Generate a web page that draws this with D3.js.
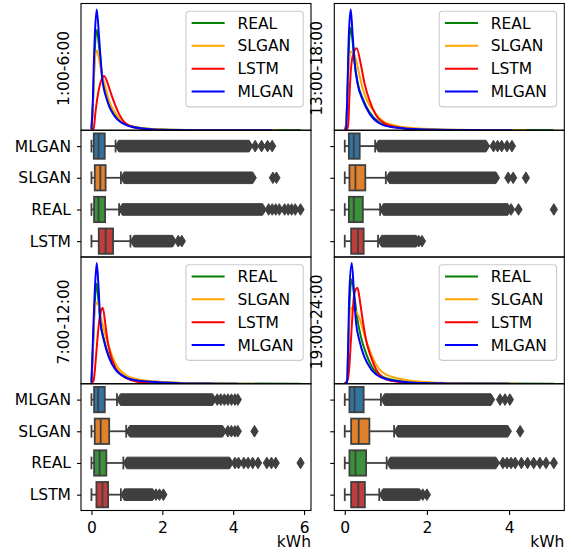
<!DOCTYPE html>
<html>
<head>
<meta charset="utf-8">
<script src="https://cdn.jsdelivr.net/npm/d3@7"></script>
<style>
  body { margin: 0; background: #fff; }
  svg { display: block; font-family: "DejaVu Sans", sans-serif; }
</style>
</head>
<body>
<div id="chart"></div>
<script>
// ---------- data ----------
// legend / kde order
const models = ["REAL", "SLGAN", "LSTM", "MLGAN"];
const lineColors = ["#008000", "#ffa500", "#ff0000", "#0000ff"];
// boxplot order, top to bottom
const boxOrder = ["MLGAN", "SLGAN", "REAL", "LSTM"];
const boxColors = ["#3274a1", "#e1812c", "#3a923a", "#c03d3e"];
const periods = ["1:00-6:00", "13:00-18:00", "7:00-12:00", "19:00-24:00"];
const xTicks = [0, 2, 4, 6];

// kde curves, [kWh, relative density], order REAL, SLGAN, LSTM, MLGAN
const kde1 = [
  [[0,0.01],[0.04,0.2],[0.07,0.45],[0.1,0.7],[0.15,0.83],[0.22,0.68],[0.3,0.45],[0.44,0.26],[0.67,0.12],[1.05,0.04],[1.43,0.018],[2,0.006],[3,0.002]],
  [[0,0.01],[0.04,0.2],[0.07,0.42],[0.1,0.6],[0.16,0.66],[0.22,0.58],[0.3,0.46],[0.39,0.36],[0.49,0.25],[0.7,0.13],[0.9,0.065],[1.2,0.028],[1.6,0.012],[2.2,0.005],[3,0.002]],
  [[0,0.003],[0.063,0.016],[0.11,0.14],[0.157,0.25],[0.25,0.39],[0.354,0.45],[0.49,0.36],[0.58,0.28],[0.77,0.14],[0.96,0.058],[1.24,0.021],[1.6,0.006],[2.0,0.002]],
  [[0,0.01],[0.04,0.25],[0.065,0.53],[0.09,0.75],[0.148,1.0],[0.22,0.75],[0.3,0.44],[0.44,0.25],[0.67,0.11],[1.05,0.035],[1.43,0.015],[2,0.004],[3,0.001]]
];
const kde2 = [
  [[0,0.008],[0.03,0.04],[0.07,0.35],[0.1,0.68],[0.14,0.85],[0.19,0.74],[0.235,0.57],[0.31,0.4],[0.44,0.26],[0.6,0.15],[0.84,0.065],[1.17,0.028],[1.57,0.014],[2,0.007],[3,0.002]],
  [[0,0.008],[0.03,0.04],[0.07,0.33],[0.11,0.6],[0.15,0.65],[0.2,0.65],[0.26,0.6],[0.33,0.5],[0.44,0.34],[0.55,0.24],[0.68,0.17],[0.92,0.078],[1.25,0.037],[1.73,0.016],[2.3,0.007],[3,0.003]],
  [[0,0.003],[0.06,0.01],[0.087,0.06],[0.11,0.25],[0.15,0.5],[0.19,0.61],[0.29,0.68],[0.4,0.53],[0.48,0.39],[0.6,0.25],[0.76,0.126],[1.0,0.052],[1.33,0.021],[1.7,0.007]],
  [[0,0.008],[0.03,0.016],[0.07,0.39],[0.095,0.75],[0.145,1.0],[0.19,0.8],[0.235,0.58],[0.31,0.39],[0.44,0.25],[0.6,0.14],[0.84,0.058],[1.17,0.024],[1.57,0.013],[2,0.006],[3,0.002]]
];
const kde3 = [
  [[0,0.01],[0.044,0.3],[0.09,0.65],[0.148,0.83],[0.2,0.68],[0.25,0.52],[0.35,0.37],[0.49,0.23],[0.67,0.125],[0.96,0.056],[1.33,0.027],[1.8,0.016],[2.5,0.006],[3.5,0.002]],
  [[0,0.01],[0.044,0.3],[0.09,0.6],[0.13,0.67],[0.2,0.65],[0.25,0.58],[0.35,0.45],[0.49,0.31],[0.67,0.17],[0.96,0.075],[1.33,0.035],[1.8,0.018],[2.5,0.007],[3.5,0.002]],
  [[0,0.003],[0.063,0.03],[0.11,0.16],[0.157,0.33],[0.2,0.47],[0.25,0.58],[0.32,0.63],[0.39,0.5],[0.44,0.385],[0.53,0.25],[0.67,0.136],[0.86,0.07],[1.14,0.028],[1.5,0.008],[1.9,0.002]],
  [[0,0.01],[0.044,0.385],[0.09,0.74],[0.148,1.0],[0.2,0.8],[0.25,0.52],[0.35,0.36],[0.49,0.22],[0.67,0.12],[0.96,0.053],[1.33,0.025],[1.8,0.015],[2.5,0.005],[3.5,0.001]]
];
const kde4 = [
  [[0,0.005],[0.055,0.012],[0.09,0.33],[0.12,0.7],[0.17,0.865],[0.23,0.74],[0.3,0.55],[0.4,0.38],[0.52,0.25],[0.66,0.14],[0.92,0.058],[1.25,0.027],[1.7,0.012],[2.5,0.004]],
  [[0,0.005],[0.05,0.02],[0.09,0.35],[0.13,0.6],[0.17,0.63],[0.22,0.61],[0.27,0.6],[0.35,0.55],[0.45,0.44],[0.55,0.33],[0.65,0.24],[0.84,0.12],[1.05,0.07],[1.25,0.048],[1.73,0.02],[2.5,0.006]],
  [[0,0.003],[0.07,0.03],[0.11,0.136],[0.15,0.36],[0.19,0.58],[0.23,0.74],[0.31,0.795],[0.38,0.66],[0.44,0.52],[0.52,0.36],[0.64,0.22],[0.76,0.12],[0.92,0.053],[1.17,0.022],[1.5,0.008]],
  [[0,0.005],[0.055,0.012],[0.087,0.385],[0.11,0.74],[0.17,1.0],[0.23,0.72],[0.27,0.52],[0.355,0.36],[0.48,0.22],[0.64,0.12],[0.92,0.048],[1.25,0.022],[1.7,0.008],[2.5,0.003]]
];

// box stats per boxOrder row: [low whisker, q1, median, q3, high whisker]
const box1 = [[0,0.065,0.2,0.376,0.68],[0,0.093,0.25,0.40,0.83],[0,0.074,0.2,0.385,0.78],[0,0.206,0.40,0.61,1.1]];
const box2 = [[0,0.1,0.22,0.364,0.74],[0,0.114,0.26,0.5,1.0],[0,0.1,0.22,0.44,0.86],[0,0.155,0.32,0.46,0.81]];
const box3 = [[0,0.074,0.19,0.376,0.72],[0,0.093,0.26,0.5,0.98],[0,0.074,0.23,0.42,0.9],[0,0.14,0.31,0.47,0.83]];
const box4 = [[0,0.114,0.24,0.46,0.88],[0,0.155,0.34,0.6,1.2],[0,0.114,0.26,0.52,1.02],[0,0.155,0.33,0.49,0.84]];

// outliers: dense run [from, to] and separate fliers
const band1 = [[0.77,4.45],[0.92,4.55],[0.87,4.83],[1.2,2.29]];
const band2 = [[0.82,3.44],[1.09,3.68],[0.94,3.97],[0.9,1.74]];
const band3 = [[0.82,3.42],[1.08,3.7],[1.0,3.9],[0.93,1.73]];
const band4 = [[0.97,3.56],[1.29,3.97],[1.11,3.68],[0.93,1.82]];
const fliers1 = [[4.62,4.8,4.97,5.1],[5.12,5.22],[5.0,5.1,5.2,5.3,5.45,5.55,5.65,5.75,5.9],[2.45,2.55]];
const fliers2 = [[3.62,3.72,3.82,3.95,4.07],[3.98,4.1,4.41],[4.05,4.23,5.09],[1.8,1.88]];
const fliers3 = [[3.55,3.65,3.75,3.85,3.95,4.05,4.13],[3.85,3.95,4.05,4.13,4.6],[4.05,4.15,4.3,4.42,4.55,4.7,4.95,5.08,5.2,5.9],[1.82,1.92,2.03]];
const fliers4 = [[3.78,3.9,4.02],[4.27],[3.85,3.95,4.05,4.15,4.3,4.45,4.6,4.75,4.9,5.09],[1.9,2.0]];

// ---------- layout ----------
const width = 572, height = 554, fs = 15.5;
const colX = [[81, 311], [334.3, 564.3]];
const rowH = 126.75, top0 = 3.5;
const gray = "#3f3f3f";

const kdeSets = [kde1, kde2, kde3, kde4];
const boxSets = [box1, box2, box3, box4];
const bandSets = [band1, band2, band3, band4];
const flierSets = [fliers1, fliers2, fliers3, fliers4];

const svg = d3.select("#chart").append("svg")
  .attr("width", width).attr("height", height);

function colMax(col) {
  let m = 0;
  [col, col + 2].forEach(p => {
    flierSets[p].forEach(f => m = Math.max(m, d3.max(f)));
    bandSets[p].forEach(b => m = Math.max(m, b[1]));
  });
  return m;
}

function spine(g, x0, y0, w, h) {
  g.append("rect").attr("x", x0).attr("y", y0).attr("width", w).attr("height", h)
    .attr("fill", "none").attr("stroke", "#000").attr("stroke-width", 1.1);
}

for (let p = 0; p < 4; p++) {
  const col = p % 2, row = Math.floor(p / 2);
  const [xl, xr] = colX[col];
  const kTop = top0 + row * 2 * rowH, bTop = kTop + rowH, bBot = bTop + rowH;
  const mx = colMax(col);
  const x = d3.scaleLinear().domain([-0.05 * mx, mx * 1.05]).range([xl, xr]);
  const g = svg.append("g");

  // ---- kde panel ----
  const curves = kdeSets[p];
  const maxD = d3.max(curves, c => d3.max(c, d => d[1]));
  const y = d3.scaleLinear().domain([0, maxD * 1.05]).range([kTop + rowH, kTop]);
  const clipId = "clip" + p;
  svg.append("clipPath").attr("id", clipId).append("rect")
    .attr("x", xl).attr("y", kTop).attr("width", xr - xl).attr("height", rowH);
  const line = d3.line().x(d => x(d[0])).y(d => y(d[1])).curve(d3.curveMonotoneX);
  const kg = g.append("g").attr("clip-path", `url(#${clipId})`);
  models.forEach((m, i) => {
    const bi = boxOrder.indexOf(m);
    const end = Math.max(d3.max(flierSets[p][bi]), bandSets[p][bi][1]);
    const pts = curves[i].concat([[end, 0]]);
    kg.append("path").attr("d", line(pts)).attr("fill", "none")
      .attr("stroke", lineColors[i]).attr("stroke-width", 2)
      .attr("stroke-linejoin", "round");
  });
  spine(g, xl, kTop, xr - xl, rowH);

  // y label
  g.append("text")
    .attr("transform", `translate(${xl - 12.5},${kTop + rowH / 2 + 1.5}) rotate(-90)`)
    .attr("text-anchor", "middle").attr("font-size", fs).attr("fill", "#000")
    .text(periods[p]);

  // legend
  const lw = 117.3, lh = 95.6;
  const lx = xr - 0.5 * fs - lw, ly = kTop + 0.5 * fs;
  const lg = g.append("g").attr("transform", `translate(${lx},${ly})`);
  lg.append("rect").attr("width", lw).attr("height", lh).attr("rx", 3).attr("ry", 3)
    .attr("fill", "#fff").attr("fill-opacity", 0.8)
    .attr("stroke", "#cccccc").attr("stroke-width", 1.1);
  models.forEach((m, i) => {
    const cy = 11.8 + i * 22.8;
    lg.append("line").attr("x1", 5.7).attr("x2", 38.7).attr("y1", cy).attr("y2", cy)
      .attr("stroke", lineColors[i]).attr("stroke-width", 2);
    lg.append("text").attr("x", 51.5).attr("y", cy + 5.6)
      .attr("font-size", fs).attr("fill", "#000").text(m);
  });

  // ---- box panel ----
  const yb = d3.scalePoint().domain(boxOrder).range([bTop, bBot]).padding(0.5);
  const bh = 0.8 * yb.step();
  const bg = g.append("g");
  boxOrder.forEach((m, i) => {
    const [lo, q1, med, q3, hi] = boxSets[p][i];
    const cy = yb(m);
    bg.append("rect").attr("x", x(q1)).attr("y", cy - bh / 2)
      .attr("width", x(q3) - x(q1)).attr("height", bh)
      .attr("fill", boxColors[i]).attr("stroke", gray).attr("stroke-width", 1.8);
    [[lo, q1], [q3, hi]].forEach(([a, b]) => {
      bg.append("line").attr("x1", x(a)).attr("x2", x(b)).attr("y1", cy).attr("y2", cy)
        .attr("stroke", gray).attr("stroke-width", 1.8);
    });
    [lo, hi].forEach(v => {
      bg.append("line").attr("x1", x(v)).attr("x2", x(v))
        .attr("y1", cy - bh / 4).attr("y2", cy + bh / 4)
        .attr("stroke", gray).attr("stroke-width", 1.8);
    });
    bg.append("line").attr("x1", x(med)).attr("x2", x(med))
      .attr("y1", cy - bh / 2).attr("y2", cy + bh / 2)
      .attr("stroke", gray).attr("stroke-width", 1.8);

    // outliers
    const hw = 3.6, hh = 5.8;
    const [b0, b1] = bandSets[p][i];
    const x0 = x(b0), x1 = x(b1);
    bg.append("path")
      .attr("d", `M${x0 - hw},${cy}L${x0},${cy - hh}L${x1},${cy - hh}L${x1 + hw},${cy}L${x1},${cy + hh}L${x0},${cy + hh}Z`)
      .attr("fill", gray).attr("stroke", gray).attr("stroke-width", 1);
    flierSets[p][i].forEach(v => {
      const fx = x(v);
      bg.append("path")
        .attr("d", `M${fx - hw},${cy}L${fx},${cy - hh}L${fx + hw},${cy}L${fx},${cy + hh}Z`)
        .attr("fill", gray).attr("stroke", gray).attr("stroke-width", 1);
    });
  });

  // y axis ticks
  const ya = g.append("g").attr("transform", `translate(${xl},0)`)
    .call(d3.axisLeft(yb).tickSize(4).tickPadding(6)
      .tickFormat(col === 0 ? (d => d) : (() => "")));
  ya.select(".domain").remove();
  ya.selectAll("line").attr("stroke", "#000").attr("stroke-width", 1.1);
  ya.selectAll("text").attr("font-size", fs).attr("fill", "#000")
    .attr("font-family", "DejaVu Sans, sans-serif");

  // x axis on bottom row
  if (row === 1) {
    const ticks = xTicks.filter(t => t <= x.domain()[1]);
    const xa = g.append("g").attr("transform", `translate(0,${bBot})`)
      .call(d3.axisBottom(x).tickValues(ticks).tickSize(4.5).tickPadding(7).tickFormat(d3.format("d")));
    xa.select(".domain").remove();
    xa.selectAll("line").attr("stroke", "#000").attr("stroke-width", 1.1);
    xa.selectAll("text").attr("font-size", fs).attr("fill", "#000")
      .attr("font-family", "DejaVu Sans, sans-serif");
    g.append("text").attr("x", xr).attr("y", bBot + 36)
      .attr("text-anchor", "end").attr("font-size", fs).attr("fill", "#000").text("kWh");
  }

  spine(g, xl, bTop, xr - xl, rowH);
}
</script>
</body>
</html>
